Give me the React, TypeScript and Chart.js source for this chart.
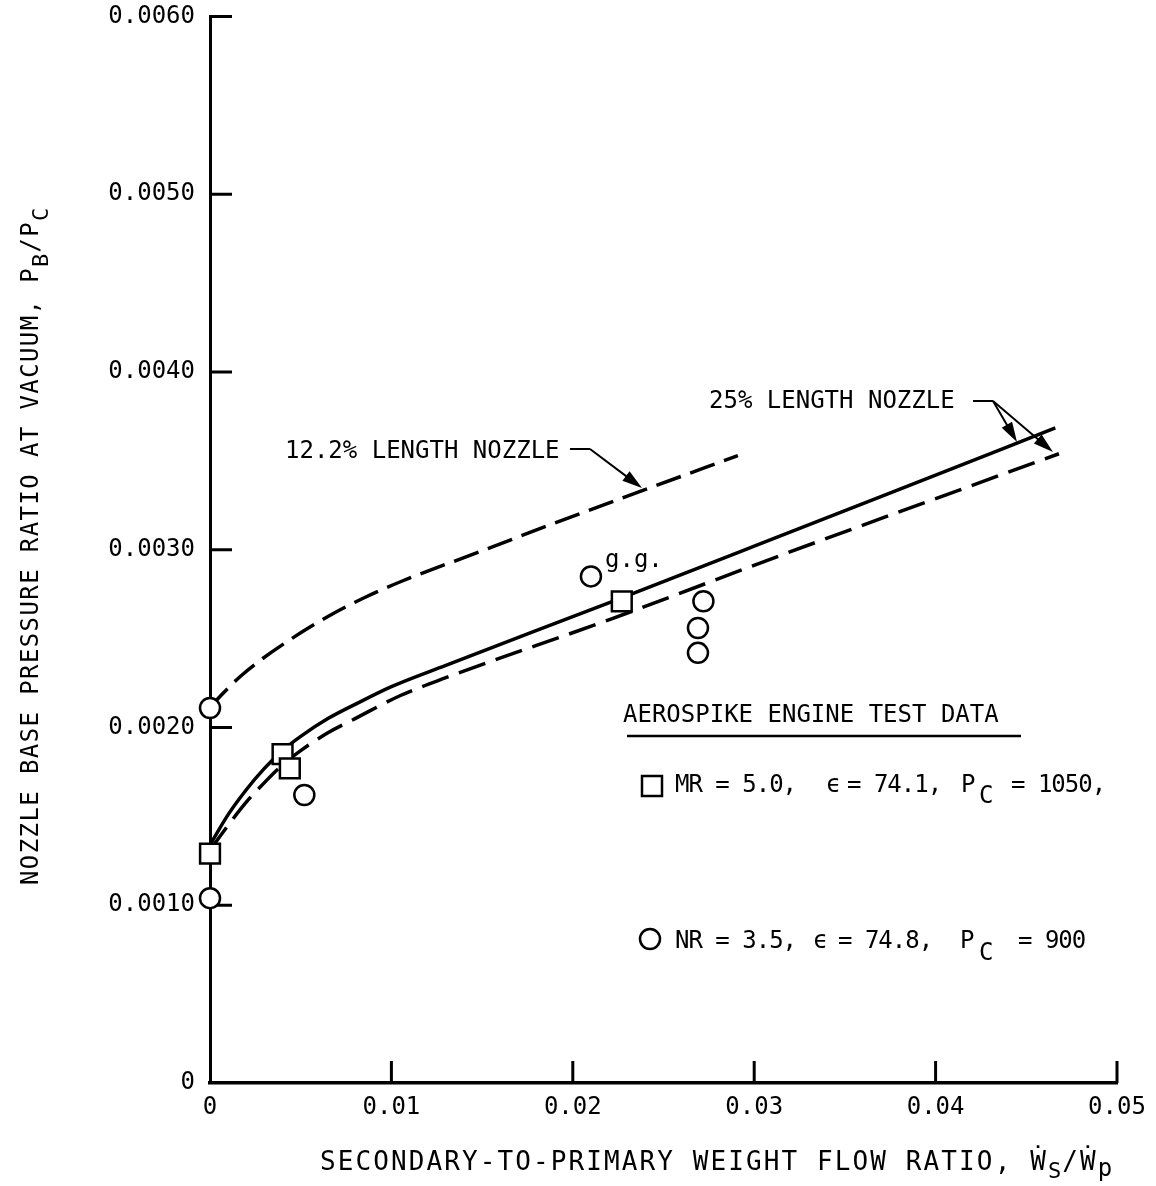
import React, { useEffect, useRef } from 'react';
import { Chart, registerables } from 'chart.js';

Chart.register(...registerables);

// ---------- data ----------
const xTickValues = [0, 0.01, 0.02, 0.03, 0.04, 0.05];
const xTickLabels = ['0', '0.01', '0.02', '0.03', '0.04', '0.05'];
const yTickValues = [0, 0.001, 0.002, 0.003, 0.004, 0.005, 0.006];
const yTickLabels = ['0', '0.0010', '0.0020', '0.0030', '0.0040', '0.0050', '0.0060'];

// 12.2% length nozzle (dashed)
const nozzle122X = [0, 0.0006, 0.0017, 0.0028, 0.0045, 0.0066, 0.0085, 0.0105, 0.0149, 0.0186, 0.0239, 0.0291];
const nozzle122Y = [0.00211, 0.00218, 0.00229, 0.00238, 0.0025, 0.00263, 0.00273, 0.00282, 0.00299, 0.003135, 0.003335, 0.00353];

// 25% length nozzle (solid)
const nozzle25SolidX = [0, 0.001, 0.002, 0.003, 0.004, 0.005, 0.0065, 0.008, 0.01, 0.013, 0.0222, 0.03, 0.038, 0.0466];
const nozzle25SolidY = [0.00134, 0.00151, 0.00165, 0.00177, 0.00187, 0.00195, 0.00205, 0.00213, 0.00223, 0.00235, 0.00271, 0.00302, 0.00334, 0.003685];

// 25% length nozzle (dashed)
const nozzle25DashX = [0, 0.001, 0.002, 0.003, 0.004, 0.005, 0.0065, 0.008, 0.0105, 0.013, 0.0221, 0.0315, 0.0468];
const nozzle25DashY = [0.00131, 0.00145, 0.00158, 0.00169, 0.00179, 0.00187, 0.00197, 0.00205, 0.00218, 0.00228, 0.00261, 0.00297, 0.00354];

// Test data: squares (MR = 5.0) and circles (NR = 3.5)
const squareX = [0, 0.004, 0.0044, 0.0227];
const squareY = [0.00129, 0.00185, 0.00177, 0.00271];
const circleX = [0, 0, 0.0052, 0.021, 0.0272, 0.0269, 0.0269];
const circleY = [0.00211, 0.00104, 0.00162, 0.00285, 0.00271, 0.00256, 0.00242];

const FONT = '"DejaVu Sans Mono", monospace';

const zip = (xs: number[], ys: number[]) => xs.map((x, i) => ({ x, y: ys[i] }));

function drawText(ctx: CanvasRenderingContext2D, s: string, x: number, y: number, size = 24, spacing = 0) {
  ctx.font = `${size}px ${FONT}`;
  (ctx as any).letterSpacing = `${spacing}px`;
  ctx.fillText(s, x, y);
  const w = ctx.measureText(s).width;
  (ctx as any).letterSpacing = '0px';
  return w;
}

function arrow(ctx: CanvasRenderingContext2D, x1: number, y1: number, x2: number, y2: number) {
  const ang = Math.atan2(y2 - y1, x2 - x1);
  const L = 20;
  const W = 6;
  const c = Math.cos(ang);
  const s = Math.sin(ang);
  ctx.beginPath();
  ctx.moveTo(x1, y1);
  ctx.lineTo(x2 - c * L * 0.7, y2 - s * L * 0.7);
  ctx.stroke();
  ctx.beginPath();
  ctx.moveTo(x2, y2);
  ctx.lineTo(x2 - L * c + W * s, y2 - L * s - W * c);
  ctx.lineTo(x2 - L * c - W * s, y2 - L * s + W * c);
  ctx.closePath();
  ctx.fill();
}

const overlayPlugin = {
  id: 'overlay',
  beforeDatasetsDraw(chart: any) {
    const { ctx, chartArea: a, scales } = chart;
    const x = scales.x;
    const y = scales.y;
    ctx.save();
    ctx.strokeStyle = '#000';
    ctx.lineWidth = 3;
    ctx.beginPath();
    yTickValues.forEach((v) => {
      if (v === 0) return;
      const py = y.getPixelForValue(v);
      ctx.moveTo(a.left, py);
      ctx.lineTo(a.left + 22, py);
    });
    xTickValues.forEach((v) => {
      if (v === 0) return;
      const px = x.getPixelForValue(v);
      ctx.moveTo(px, a.bottom);
      ctx.lineTo(px, a.bottom - 22);
    });
    ctx.stroke();
    ctx.restore();
  },
  afterDatasetsDraw(chart: any) {
    const { ctx } = chart;
    ctx.save();
    ctx.fillStyle = '#000';
    ctx.strokeStyle = '#000';
    ctx.textBaseline = 'alphabetic';
    ctx.textAlign = 'left';

    // curve labels
    drawText(ctx, '12.2% LENGTH NOZZLE', 285, 458);
    ctx.lineWidth = 2;
    ctx.beginPath();
    ctx.moveTo(570, 449);
    ctx.lineTo(590, 449);
    ctx.stroke();
    arrow(ctx, 590, 449, 642, 488);

    drawText(ctx, '25% LENGTH NOZZLE', 709, 408);
    ctx.beginPath();
    ctx.moveTo(973, 401);
    ctx.lineTo(993, 401);
    ctx.stroke();
    arrow(ctx, 993, 401, 1017, 442);
    arrow(ctx, 993, 401, 1053, 452);

    drawText(ctx, 'g.g.', 605, 567);

    // legend
    drawText(ctx, 'AEROSPIKE ENGINE TEST DATA', 623, 722);
    ctx.lineWidth = 2.5;
    ctx.beginPath();
    ctx.moveTo(627, 736);
    ctx.lineTo(1021, 736);
    ctx.stroke();

    ctx.fillStyle = '#fff';
    ctx.fillRect(642, 776, 20, 20);
    ctx.strokeRect(642, 776, 20, 20);
    ctx.fillStyle = '#000';
    drawText(ctx, 'MR = 5.0,', 675, 792, 24, -1);
    drawText(ctx, '\u03F5', 826, 792);
    drawText(ctx, '= 74.1,', 847, 792, 24, -1);
    drawText(ctx, 'P', 961, 792);
    drawText(ctx, 'C', 979, 803);
    drawText(ctx, '= 1050,', 1011, 792, 24, -1);

    ctx.beginPath();
    ctx.arc(650, 939, 10, 0, Math.PI * 2);
    ctx.fillStyle = '#fff';
    ctx.fill();
    ctx.stroke();
    ctx.fillStyle = '#000';
    drawText(ctx, 'NR = 3.5,', 675, 948, 24, -1);
    drawText(ctx, '\u03F5', 813, 948);
    drawText(ctx, '= 74.8,', 838, 948, 24, -1);
    drawText(ctx, 'P', 960, 948);
    drawText(ctx, 'C', 979, 960);
    drawText(ctx, '= 900', 1018, 948, 24, -1);

    // x axis title
    let cx = 320;
    const xb = 1170;
    cx += drawText(ctx, 'SECONDARY-TO-PRIMARY WEIGHT FLOW RATIO, \u1E86', cx, xb, 26, 2.1);
    cx += drawText(ctx, 'S', cx, xb + 8, 22, 1);
    cx += drawText(ctx, '/\u1E86', cx, xb, 26, 2.1);
    drawText(ctx, 'p', cx, xb + 6, 24, 0);

    // y axis title (rotated)
    ctx.save();
    ctx.translate(38, 885);
    ctx.rotate(-Math.PI / 2);
    let cy = 0;
    cy += drawText(ctx, 'NOZZLE BASE PRESSURE RATIO AT VACUUM, P', cy, 0, 24, 1.4);
    cy += drawText(ctx, 'B', cy, 10, 22, 1);
    cy += drawText(ctx, '/P', cy, 0, 24, 1.4);
    drawText(ctx, 'C', cy, 10, 22, 1);
    ctx.restore();

    ctx.restore();
  },
};

export default function App() {
  const canvasRef = useRef<HTMLCanvasElement | null>(null);

  useEffect(() => {
    const canvas = canvasRef.current;
    if (!canvas) return;
    const lineBase = {
      showLine: true,
      pointRadius: 0,
      borderColor: '#000',
      borderWidth: 3.5,
      cubicInterpolationMode: 'monotone' as const,
      borderCapStyle: 'butt' as const,
      order: 2,
    };
    const chart = new Chart(canvas, {
      type: 'scatter',
      data: {
        datasets: [
          {
            label: 'MR = 5.0',
            data: zip(squareX, squareY),
            pointStyle: 'rect',
            pointRadius: 14,
            borderWidth: 2.5,
            borderColor: '#000',
            backgroundColor: '#fff',
            clip: false,
            order: 0,
          },
          {
            label: 'NR = 3.5',
            data: zip(circleX, circleY),
            pointStyle: 'circle',
            pointRadius: 10,
            borderWidth: 2.5,
            borderColor: '#000',
            backgroundColor: '#fff',
            clip: false,
            order: 0,
          },
          { label: '12.2% length nozzle', data: zip(nozzle122X, nozzle122Y), borderDash: [26, 10], ...lineBase },
          { label: '25% length nozzle', data: zip(nozzle25SolidX, nozzle25SolidY), ...lineBase },
          { label: '25% length nozzle (dashed)', data: zip(nozzle25DashX, nozzle25DashY), borderDash: [28, 11], ...lineBase },
        ],
      },
      options: {
        animation: false,
        responsive: false,
        layout: { padding: { left: 0, top: 15, right: 39, bottom: 0 } },
        plugins: { legend: { display: false }, tooltip: { enabled: false } },
        scales: {
          x: {
            type: 'linear',
            min: 0,
            max: 0.05,
            afterBuildTicks: (scale: any) => {
              scale.ticks = xTickValues.map((v) => ({ value: v }));
            },
            afterFit: (scale: any) => {
              scale.height = 103;
            },
            grid: { display: false, drawTicks: false },
            border: { display: true, color: '#000', width: 3.5 },
            ticks: {
              color: '#000',
              padding: 10,
              maxRotation: 0,
              font: { family: FONT, size: 24 },
              callback: (_v: any, i: number) => xTickLabels[i],
            },
          },
          y: {
            type: 'linear',
            min: 0,
            max: 0.006,
            afterBuildTicks: (scale: any) => {
              scale.ticks = yTickValues.map((v) => ({ value: v }));
            },
            afterFit: (scale: any) => {
              scale.width = 210;
              scale.paddingTop = 0;
              scale.paddingBottom = 0;
            },
            grid: { display: false, drawTicks: false },
            border: { display: true, color: '#000', width: 3 },
            ticks: {
              color: '#000',
              padding: 15,
              font: { family: FONT, size: 24 },
              callback: (_v: any, i: number) => yTickLabels[i],
            },
          },
        },
      },
      plugins: [overlayPlugin],
    });
    return () => chart.destroy();
  }, []);

  return (
    <div style={{ position: 'absolute', left: 0, top: 0, width: 1156, height: 1186, background: '#fff' }}>
      <canvas ref={canvasRef} width={1156} height={1186} />
    </div>
  );
}
